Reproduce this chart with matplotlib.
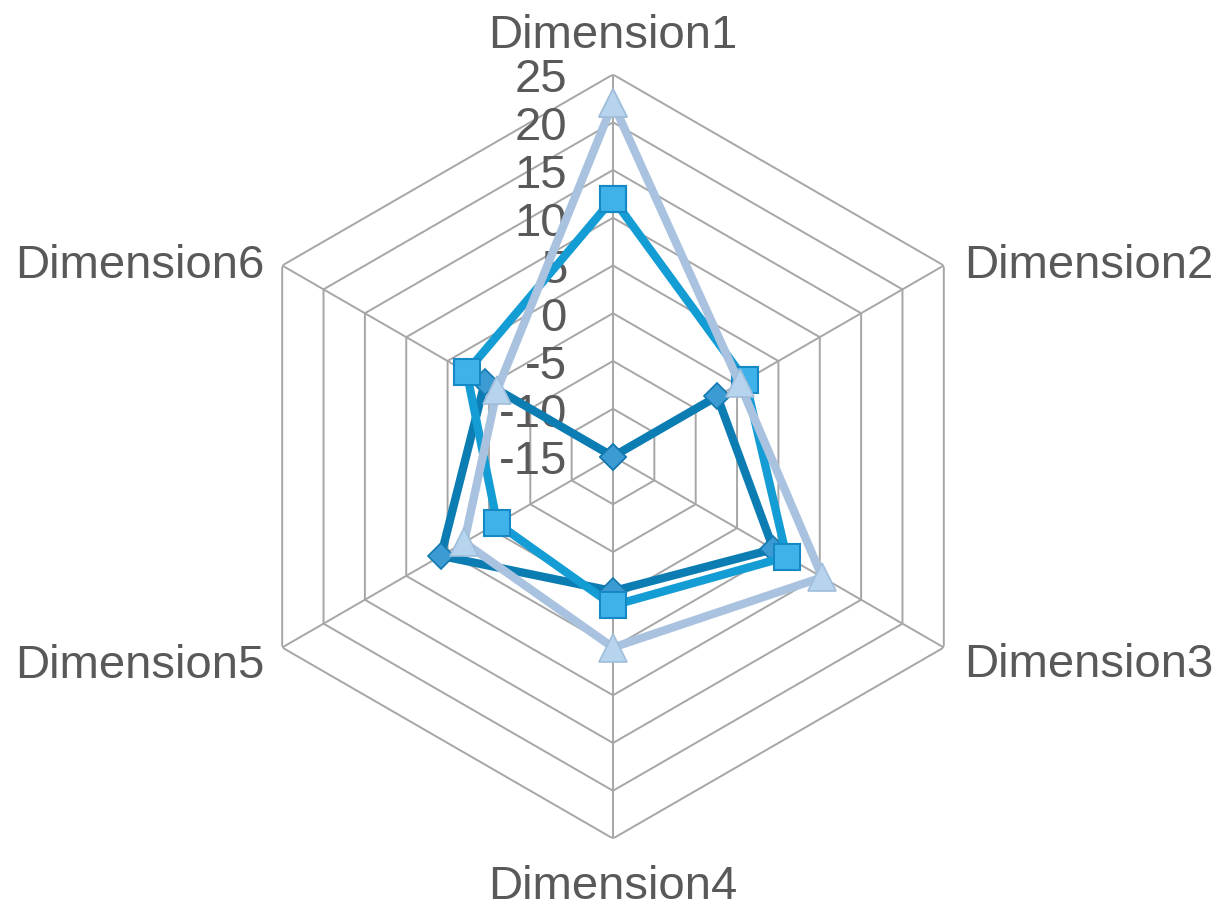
import numpy as np
import matplotlib
matplotlib.use('Agg')
import matplotlib.pyplot as plt
import matplotlib.transforms as mtransforms

# 数据
categories = ['Dimension1', 'Dimension2', 'Dimension3',
              'Dimension4', 'Dimension5', 'Dimension6']
series_diamond = [-15, -2.4, 4.4, -0.9, 5.8, 0.5]
series_square = [12, 1, 6, 0.6, -1, 2.7]
series_triangle = [22, 0.3, 10.3, 5, 3, -1]
ticks = [-15, -10, -5, 0, 5, 10, 15, 20, 25]

plt.rcParams['font.family'] = ['Liberation Sans', 'DejaVu Sans']
txtColor = '#595959'
gridColor = '#A6A6A6'
fs = 34

fig = plt.figure(figsize=(12.2, 9.12), dpi=100)
ax = fig.add_axes([231 / 1220, 72.5 / 912, 764 / 1220, 764 / 912], projection='polar')
ax.set_theta_zero_location('N')
ax.set_theta_direction(-1)
ax.set_ylim(ticks[0], ticks[-1])

n = len(categories)
angles = np.arange(n) * 2 * np.pi / n
angDeg = np.degrees(angles)

# 网格：辐射线 + 六边形
ax.set_thetagrids(angDeg, labels=[''] * n)
ax.xaxis.grid(True, color=gridColor, linewidth=1.4)
ax.yaxis.grid(False)
ax.set_yticks([])
ax.spines['polar'].set_visible(False)
ax.patch.set_visible(False)
closedAng = np.append(angles, angles[0])
for t in ticks[1:]:
    ax.plot(closedAng, [t] * (n + 1), color=gridColor, linewidth=1.4, zorder=1)

# 刻度标签
for t in ticks:
    tr = mtransforms.offset_copy(ax.transData, fig=fig, x=-46, y=-5, units='dots')
    ax.text(0, t, str(t), transform=tr, ha='right', va='center',
            fontsize=fs, color=txtColor, zorder=2)

# 类别标签
offs = [(0, 39, 'center'), (20, 0, 'left'), (20, -17, 'left'),
        (0, -48, 'center'), (-18, -17, 'right'), (-18, 0, 'right')]
for a, name, (dx, dy, ha) in zip(angles, categories, offs):
    tr = mtransforms.offset_copy(ax.transData, fig=fig, x=dx, y=dy, units='dots')
    ax.text(a, ticks[-1], name, transform=tr, ha=ha, va='center',
            fontsize=fs, color=txtColor)

def closed(v):
    return list(v) + [v[0]]

ax.plot(closedAng, closed(series_diamond), color='#0B7DB3', linewidth=6,
        marker='D', markersize=13, markerfacecolor='#3C9BD2',
        markeredgecolor='#1479B0', markeredgewidth=1.2, zorder=3, clip_on=False)
ax.plot(closedAng, closed(series_square), color='#149DD5', linewidth=6,
        marker='s', markersize=19, markerfacecolor='#40B2EA',
        markeredgecolor='#1489C6', markeredgewidth=1.5, zorder=4, clip_on=False)
ax.plot(closedAng, closed(series_triangle), color='#A9C2DF', linewidth=6,
        marker='^', markersize=20, markerfacecolor='#B7D4EE',
        markeredgecolor='#A0BDDA', markeredgewidth=1.2, zorder=5, clip_on=False)

fig.savefig('out.png', dpi=100)
